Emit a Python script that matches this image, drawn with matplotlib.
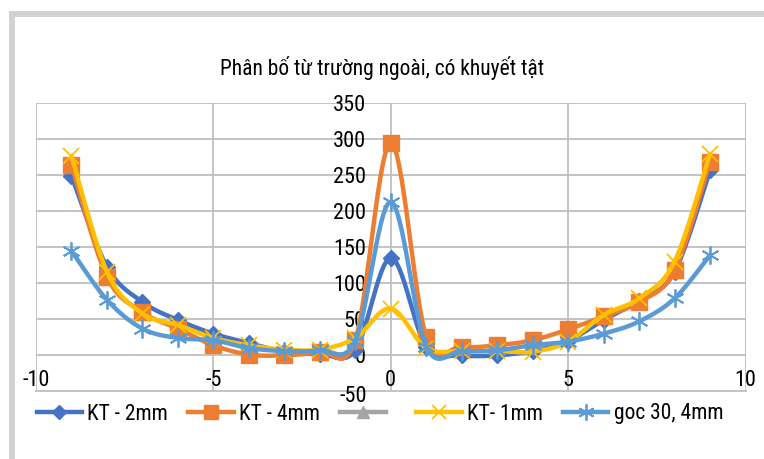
import numpy as np
import matplotlib
matplotlib.use("Agg")
import matplotlib.pyplot as plt
from matplotlib.lines import Line2D
from matplotlib.patches import Rectangle
from matplotlib import font_manager

plt.rcParams["axes.unicode_minus"] = False

x_vals = [-9, -8, -7, -6, -5, -4, -3, -2, -1, 0, 1, 2, 3, 4, 5, 6, 7, 8, 9]
kt_2mm = [249, 123, 74, 49, 30, 17, 5, 2, 7, 135, 12, 0, 0, 6, 20, 49, 76, 116, 257]
kt_4mm = [264, 109, 60, 37, 14, 1, 0, 5, 21, 295, 26, 12, 14, 21, 36, 54, 74, 118, 269]
kt_gray = []
kt_1mm = [277, 116, 58, 42, 24, 14, 8, 8, 24, 65, 10, 6, 6, 5, 19, 56, 79, 130, 280]
goc30_4mm = [145, 77, 37, 24, 21, 10, 6, 7, 20, 213, 12, 6, 7, 14, 19, 30, 47, 79, 139]

series_names = ["KT - 2mm", "KT - 4mm", " ", "KT- 1mm", "goc 30, 4mm"]
title = "Phân bố từ trường ngoài, có khuyết tật"
x_ticks = [-10, -5, 0, 5, 10]
y_ticks = [-50, 0, 50, 100, 150, 200, 250, 300, 350]

avail = {f.name for f in font_manager.fontManager.ttflist}
cands = ["Liberation Sans Narrow", "Roboto Condensed", "Open Sans Condensed", "DejaVu Sans"]
FAM = [c for c in cands if c in avail] or ["DejaVu Sans"]
STRETCH = "normal" if FAM[0] != "DejaVu Sans" else "condensed"


def fp(size):
    return font_manager.FontProperties(family=FAM, size=size, stretch=STRETCH)


def smooth(xs, ys, n=30):
    xs = np.asarray(xs, float)
    ys = np.asarray(ys, float)
    if len(xs) < 2:
        return xs, ys
    px = np.concatenate([[xs[0]], xs, [xs[-1]]])
    py = np.concatenate([[ys[0]], ys, [ys[-1]]])
    ox, oy = [], []
    t = np.linspace(0, 1, n)
    for i in range(1, len(px) - 2):
        p0x, p1x, p2x, p3x = px[i - 1], px[i], px[i + 1], px[i + 2]
        p0y, p1y, p2y, p3y = py[i - 1], py[i], py[i + 1], py[i + 2]
        c1x = p1x + (p2x - p0x) / 6
        c1y = p1y + (p2y - p0y) / 6
        c2x = p2x - (p3x - p1x) / 6
        c2y = p2y - (p3y - p1y) / 6
        bx = (1 - t) ** 3 * p1x + 3 * (1 - t) ** 2 * t * c1x + 3 * (1 - t) * t ** 2 * c2x + t ** 3 * p2x
        by = (1 - t) ** 3 * p1y + 3 * (1 - t) ** 2 * t * c1y + 3 * (1 - t) * t ** 2 * c2y + t ** 3 * p2y
        ox.append(bx)
        oy.append(by)
    return np.concatenate(ox), np.concatenate(oy)


fig = plt.figure(figsize=(7.64, 4.59), dpi=100)
fig.patch.set_facecolor("white")
fig.add_artist(Rectangle((9 / 764, 0), 6 / 764, 1 - 11 / 459, transform=fig.transFigure,
                         facecolor="#d2d2d2", edgecolor="none"))
fig.add_artist(Rectangle((9 / 764, 1 - 17 / 459), 1, 6 / 459, transform=fig.transFigure,
                         facecolor="#d2d2d2", edgecolor="none"))

ax = fig.add_axes([36 / 764, (459 - 391.3) / 459, 709.5 / 764, 288 / 459])
ax.set_xlim(-10, 10)
ax.set_ylim(-50, 350)
ax.set_xticks(x_ticks, labels=[str(v) for v in x_ticks])
ax.set_yticks(y_ticks[1:], labels=[str(v) for v in y_ticks[1:]])
ax.grid(True, color="#bfbfbf", linewidth=1.3)
ax.set_axisbelow(True)
for s in ["top", "right", "left"]:
    ax.spines[s].set_visible(False)
ax.spines["bottom"].set_color("#bfbfbf")
ax.spines["bottom"].set_linewidth(1.3)
ax.spines["left"].set_position(("data", 0))
ax.tick_params(axis="both", length=0, colors="black")
ax.tick_params(axis="y", pad=18)
ax.tick_params(axis="x", pad=0)
for lab in ax.get_xticklabels():
    lab.set_fontproperties(fp(16))
    lab.set_va("bottom")
for lab in ax.get_yticklabels():
    lab.set_fontproperties(fp(16))

# lowest y tick label, which Excel puts just below the horizontal axis line
fig.text(367 / 764, 1 - 396 / 459, str(y_ticks[0]), ha="right", va="center",
         fontproperties=fp(16), color="black", zorder=20)

styles = [
    (kt_2mm, "#4472C4", "D", 8, {}),
    (kt_4mm, "#ED7D31", "s", 11, {}),
    (kt_gray, "#A5A5A5", "^", 9, {}),
    (kt_1mm, "#FFC000", "x", 11, {"markeredgewidth": 1.3}),
    (goc30_4mm, "#5B9BD5", (6, 2, 0), 13, {"markeredgewidth": 1.3}),
]
handles = []
for i, (ys, color, mk, ms, extra) in enumerate(styles):
    xs = x_vals[:len(ys)]
    sx, sy = smooth(xs, ys)
    ax.plot(sx, sy, color=color, linewidth=3.2, solid_capstyle="round", zorder=3 + i)
    ax.plot(xs, ys, linestyle="none", marker=mk, markersize=ms, color=color,
            markeredgecolor=color, zorder=3 + i, **extra)
    handles.append(Line2D([], [], color=color, linewidth=3.2, marker=mk, markersize=ms * 0.9,
                          markeredgecolor=color, **extra))

fig.text(0.5, 1 - 68 / 459, title, ha="center", va="center", fontproperties=fp(15.5))

leg = fig.legend(handles, series_names, loc="center", bbox_to_anchor=(380 / 764, 1 - 414 / 459),
                 ncol=5, frameon=False, prop=fp(15.5),
                 handlelength=2.1, handletextpad=0.25, columnspacing=0.95)

fig.savefig("out.png", dpi=100, facecolor="white")
